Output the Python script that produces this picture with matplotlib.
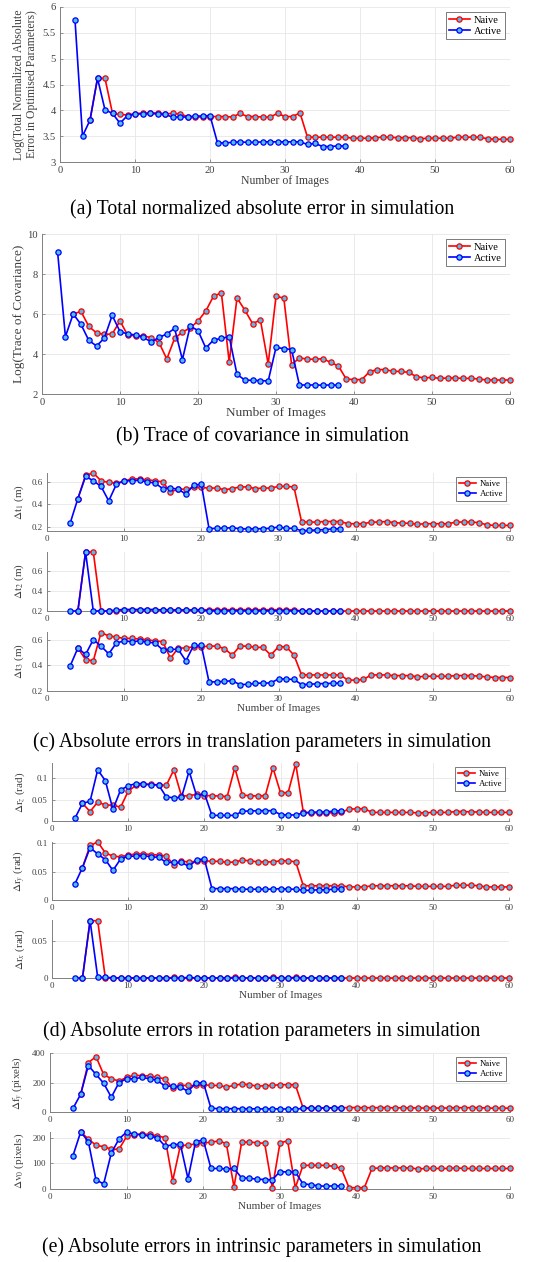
import numpy as np
import matplotlib
matplotlib.use("Agg")
import matplotlib.pyplot as plt

plt.rcParams['font.family'] = ['Liberation Serif', 'DejaVu Serif']
plt.rcParams['mathtext.fontset'] = 'stix'

# ---------------- data ----------------
# (a) log total normalized absolute error
a_active_start = 2
a_active = [5.75, 3.50, 3.81, 4.62, 4.01, 3.94, 3.75, 3.90, 3.93, 3.93, 3.94, 3.93, 3.92, 3.87, 3.87, 3.87,
            3.89, 3.89, 3.90, 3.37, 3.37, 3.38, 3.39, 3.38, 3.38, 3.39, 3.39, 3.39, 3.39, 3.39, 3.39, 3.34,
            3.36, 3.30, 3.30, 3.31, 3.31]
a_naive_start = 4
a_naive = [3.81, 4.62, 4.62, 3.94, 3.92, 3.91, 3.93, 3.95, 3.95, 3.95, 3.93, 3.94, 3.93, 3.88, 3.87, 3.87,
           3.88, 3.88, 3.88, 3.87, 3.94, 3.88, 3.88, 3.87, 3.87, 3.94, 3.88, 3.88, 3.95, 3.48, 3.48, 3.48,
           3.48, 3.48, 3.48, 3.46, 3.46, 3.46, 3.47, 3.48, 3.48, 3.47, 3.47, 3.47, 3.45, 3.46, 3.46, 3.46,
           3.46, 3.48, 3.48, 3.48, 3.48, 3.45, 3.44, 3.44, 3.44]

# (b) log trace of covariance
b_active_start = 2
b_active = [9.10, 4.87, 6.00, 5.48, 4.68, 4.40, 4.80, 5.93, 5.12, 5.00, 4.95, 4.83, 4.60, 4.83, 5.00, 5.28,
            3.72, 5.40, 5.17, 4.30, 4.70, 4.78, 4.87, 2.98, 2.70, 2.68, 2.67, 2.65, 4.33, 4.27, 4.22, 2.45,
            2.45, 2.45, 2.44, 2.45, 2.44]
b_naive_start = 4
b_naive = [6.00, 6.13, 5.38, 5.05, 4.98, 5.00, 5.65, 4.93, 4.92, 4.90, 4.82, 4.57, 3.75, 4.78, 5.10, 5.30,
           5.65, 6.15, 6.90, 7.05, 3.60, 6.80, 6.20, 5.52, 5.70, 3.50, 6.88, 6.80, 3.47, 3.80, 3.75, 3.73,
           3.77, 3.58, 3.40, 2.75, 2.72, 2.72, 3.12, 3.22, 3.22, 3.13, 3.13, 3.08, 2.87, 2.80, 2.83, 2.78,
           2.80, 2.80, 2.78, 2.78, 2.75, 2.70, 2.70, 2.70, 2.70]

# (c) translation errors, active from x=3, naive from x=4
t_active_start = 3
t_naive_start = 4
t1_active = [0.23, 0.45, 0.65, 0.61, 0.56, 0.43, 0.58, 0.61, 0.61, 0.615, 0.60, 0.59, 0.54, 0.545, 0.535, 0.49,
             0.57, 0.58, 0.18, 0.185, 0.185, 0.19, 0.18, 0.178, 0.18, 0.18, 0.185, 0.195, 0.185, 0.183, 0.163,
             0.165, 0.17, 0.172, 0.178, 0.18]
t1_naive = [0.45, 0.66, 0.68, 0.61, 0.595, 0.59, 0.605, 0.63, 0.625, 0.62, 0.61, 0.60, 0.51, 0.535, 0.535, 0.55,
            0.55, 0.545, 0.545, 0.53, 0.54, 0.555, 0.555, 0.54, 0.545, 0.545, 0.56, 0.56, 0.555, 0.24, 0.24, 0.24,
            0.245, 0.245, 0.245, 0.225, 0.225, 0.225, 0.24, 0.24, 0.245, 0.235, 0.23, 0.23, 0.22, 0.225, 0.225,
            0.225, 0.225, 0.24, 0.24, 0.24, 0.235, 0.215, 0.21, 0.21, 0.21]
t2_active = [0.20, 0.20, 0.79, 0.20, 0.20, 0.20, 0.21, 0.215, 0.215, 0.215, 0.215, 0.215, 0.21, 0.21, 0.21, 0.21,
             0.21, 0.21, 0.202, 0.202, 0.202, 0.202, 0.202, 0.202, 0.202, 0.202, 0.202, 0.202, 0.202, 0.202,
             0.20, 0.20, 0.20, 0.20, 0.20, 0.20]
t2_naive = [0.20, 0.79, 0.79, 0.20, 0.20, 0.20, 0.21, 0.21, 0.21, 0.21, 0.21, 0.21, 0.21, 0.21, 0.21, 0.21,
            0.21, 0.212, 0.212, 0.212, 0.212, 0.212, 0.212, 0.212, 0.212, 0.212, 0.212, 0.212, 0.212, 0.20, 0.20,
            0.20, 0.20, 0.20, 0.20, 0.20, 0.20, 0.20, 0.20, 0.20, 0.20, 0.20, 0.20, 0.20, 0.20, 0.20, 0.20, 0.20,
            0.20, 0.20, 0.20, 0.20, 0.20, 0.20, 0.20, 0.20, 0.20]
t3_active = [0.395, 0.535, 0.485, 0.60, 0.55, 0.49, 0.575, 0.59, 0.585, 0.59, 0.58, 0.575, 0.52, 0.525, 0.525,
             0.435, 0.555, 0.555, 0.27, 0.272, 0.275, 0.28, 0.25, 0.252, 0.26, 0.262, 0.262, 0.295, 0.293, 0.29,
             0.25, 0.252, 0.257, 0.258, 0.26, 0.262]
t3_naive = [0.535, 0.445, 0.435, 0.655, 0.63, 0.62, 0.61, 0.61, 0.605, 0.60, 0.59, 0.585, 0.455, 0.535, 0.535,
            0.545, 0.545, 0.55, 0.55, 0.53, 0.48, 0.55, 0.55, 0.54, 0.54, 0.48, 0.545, 0.545, 0.48, 0.325, 0.325,
            0.325, 0.325, 0.325, 0.325, 0.285, 0.285, 0.29, 0.325, 0.325, 0.325, 0.32, 0.32, 0.32, 0.31, 0.315,
            0.315, 0.315, 0.315, 0.32, 0.32, 0.32, 0.315, 0.31, 0.305, 0.305, 0.305]

# (d) rotation errors
rz_active = [0.006, 0.041, 0.046, 0.119, 0.094, 0.027, 0.072, 0.082, 0.087, 0.087, 0.084, 0.084, 0.056, 0.054,
             0.055, 0.116, 0.058, 0.065, 0.013, 0.013, 0.013, 0.013, 0.023, 0.023, 0.024, 0.024, 0.024, 0.015,
             0.014, 0.014, 0.019, 0.020, 0.021, 0.021, 0.023, 0.024]
rz_naive = [0.041, 0.022, 0.044, 0.037, 0.037, 0.032, 0.069, 0.083, 0.085, 0.085, 0.084, 0.083, 0.119, 0.058,
            0.059, 0.062, 0.059, 0.059, 0.058, 0.057, 0.124, 0.060, 0.059, 0.058, 0.059, 0.124, 0.066, 0.066,
            0.133, 0.020, 0.019, 0.019, 0.019, 0.019, 0.020, 0.028, 0.028, 0.029, 0.020, 0.020, 0.020, 0.020,
            0.020, 0.020, 0.019, 0.019, 0.020, 0.020, 0.020, 0.022, 0.022, 0.021, 0.021, 0.020, 0.020, 0.020, 0.020]
ry_active = [0.028, 0.057, 0.092, 0.081, 0.071, 0.052, 0.072, 0.077, 0.077, 0.078, 0.076, 0.075, 0.066, 0.066,
             0.066, 0.059, 0.071, 0.072, 0.020, 0.020, 0.020, 0.020, 0.019, 0.019, 0.019, 0.019, 0.019, 0.020,
             0.019, 0.019, 0.017, 0.017, 0.018, 0.018, 0.019, 0.019]
ry_naive = [0.057, 0.096, 0.102, 0.083, 0.077, 0.076, 0.079, 0.081, 0.081, 0.080, 0.079, 0.077, 0.062, 0.068,
            0.067, 0.068, 0.069, 0.068, 0.068, 0.066, 0.067, 0.070, 0.069, 0.067, 0.067, 0.067, 0.069, 0.069,
            0.067, 0.025, 0.025, 0.025, 0.025, 0.025, 0.025, 0.023, 0.023, 0.023, 0.025, 0.025, 0.025, 0.025,
            0.025, 0.025, 0.024, 0.024, 0.024, 0.024, 0.024, 0.026, 0.026, 0.026, 0.025, 0.023, 0.023, 0.023, 0.023]
rx_active = [0.0, 0.0, 0.078, 0.001, 0.0008, 0.0003, 0.0, 0.0, 0.0, 0.0, 0.0, 0.0, 0.0, 0.0, 0.0, 0.0008, 0.0, 0.0,
             0.0, 0.0, 0.0, 0.0, 0.0, 0.0, 0.0, 0.0, 0.0, 0.0, 0.0, 0.0, 0.0, 0.0, 0.0, 0.0, 0.0, 0.0]
rx_naive = [0.0, 0.078, 0.078, 0.0, 0.0, 0.0, 0.0, 0.0, 0.0, 0.0, 0.0, 0.0, 0.0008, 0.0, 0.0, 0.0, 0.0, 0.0, 0.0,
            0.0, 0.001, 0.0, 0.0, 0.0, 0.0, 0.001, 0.0, 0.0, 0.001, 0.0, 0.0, 0.0, 0.0, 0.0, 0.0, 0.0, 0.0, 0.0,
            0.0, 0.0, 0.0, 0.0, 0.0, 0.0, 0.0, 0.0, 0.0, 0.0, 0.0, 0.0, 0.0, 0.0, 0.0, 0.0, 0.0, 0.0, 0.0]

# (e) intrinsic errors
fy_active = [25, 120, 315, 255, 195, 100, 200, 225, 225, 235, 225, 215, 175, 175, 170, 140, 195, 200,
             25, 23, 22, 23, 22, 22, 21, 21, 21, 21, 20, 20, 24, 25, 26, 27, 29, 30]
fy_naive = [120, 335, 375, 255, 225, 210, 235, 250, 245, 245, 235, 225, 160, 180, 180, 180, 185, 180, 180,
            170, 180, 190, 185, 175, 178, 180, 185, 185, 185, 30, 28, 28, 28, 28, 28, 30, 30, 29, 29, 29, 29,
            28, 28, 28, 27, 27, 27, 27, 27, 29, 29, 29, 29, 27, 26, 26, 26]
v0_active = [130, 222, 185, 35, 20, 140, 195, 222, 213, 212, 205, 200, 167, 172, 175, 40, 185, 190,
             80, 80, 78, 80, 43, 42, 38, 37, 36, 68, 66, 66, 20, 17, 12, 11, 12, 12]
v0_naive = [222, 195, 170, 165, 155, 155, 205, 212, 213, 213, 207, 200, 32, 168, 172, 175, 180, 182, 187,
            177, 8, 182, 183, 180, 178, 3, 180, 187, 5, 92, 92, 92, 92, 88, 80, 5, 5, 5, 80, 82, 82, 82, 82,
            82, 78, 80, 80, 80, 80, 82, 80, 80, 80, 80, 80, 80, 80]

series_names = ['Naive', 'Active']

# ---------------- figure ----------------
W, H = 539, 1262
fig = plt.figure(figsize=(W / 100, H / 100), dpi=100)

RED = '#ff0000'
BLUE = '#0000ff'
FACE = '#4DBEEE'
TICKC = '#404040'


def ax_at(left, top, right, bottom):
    return fig.add_axes([left / W, 1 - bottom / H, (right - left) / W, (bottom - top) / H])


def draw(ax, naive, nstart, active, astart, ylim, yticks, ylabel, fs=6.5, ylfs=8, legend=False, lfs=6.3,
         xlabel=False, label_x=26):
    xn = np.arange(nstart, nstart + len(naive))
    xa = np.arange(astart, astart + len(active))
    ax.plot(xn, naive, '-o', color=RED, lw=1.2, ms=3.8, mew=0.9, mfc=FACE, mec=RED,
            label=series_names[0], clip_on=False, zorder=3)
    ax.plot(xa, active, '-o', color=BLUE, lw=1.2, ms=3.8, mew=0.9, mfc=FACE, mec=BLUE,
            label=series_names[1], clip_on=False, zorder=4)
    ax.set_xlim(0, 60)
    ax.set_ylim(*ylim)
    ax.set_xticks(range(0, 61, 10))
    ax.set_yticks(yticks)
    ax.grid(True, color='#e6e6e6', lw=0.6, zorder=0)
    ax.set_axisbelow(True)
    for s in ['top', 'right']:
        ax.spines[s].set_visible(False)
    for s in ['left', 'bottom']:
        ax.spines[s].set_color('#808080')
        ax.spines[s].set_linewidth(0.7)
    ax.tick_params(direction='in', length=2, width=0.6, color='#808080', labelsize=fs,
                   labelcolor=TICKC, pad=3)
    ax.set_ylabel(ylabel, fontsize=ylfs, color=TICKC, linespacing=1.1)
    bb = ax.get_position()
    ax.yaxis.set_label_coords((label_x / W - bb.x0) / bb.width, 0.5)
    if xlabel:
        ax.set_xlabel('Number of Images', fontsize=ylfs, color=TICKC, labelpad=0)
    if legend:
        leg = ax.legend(loc='upper right', fontsize=lfs, frameon=True, fancybox=False,
                        handlelength=2.0, handletextpad=0.4, borderpad=0.3, labelspacing=0.2,
                        borderaxespad=0.5)
        leg.get_frame().set_edgecolor('#404040')
        leg.get_frame().set_linewidth(0.6)
    return ax


# (a)
ax = ax_at(60, 7, 510, 162)
draw(ax, a_naive, a_naive_start, a_active, a_active_start, (3, 6), np.arange(3, 6.01, 0.5),
     'Log(Total Normalized Absolute\nError in Optimised Parameters)', fs=7.6, ylfs=8.5, legend=True, lfs=7.5,
     xlabel=True, label_x=38)
ax.set_yticklabels(['3', '3.5', '4', '4.5', '5', '5.5', '6'])

# (b)
ax = ax_at(42, 234, 510, 394)
draw(ax, b_naive, b_naive_start, b_active, b_active_start, (2, 10), [2, 4, 6, 8, 10],
     'Log(Trace of Covariance)', fs=7.6, ylfs=9.5, legend=True, lfs=7.5, xlabel=True, label_x=25)

# (c)
ax = ax_at(47, 473, 510, 531)
draw(ax, t1_naive, t_naive_start, t1_active, t_active_start, (0.16, 0.68), [0.2, 0.4, 0.6],
     r'$\Delta\mathrm{t}_{1}$ (m)', legend=True)
ax = ax_at(47, 552, 510, 611)
draw(ax, t2_naive, t_naive_start, t2_active, t_active_start, (0.2, 0.79), [0.2, 0.4, 0.6],
     r'$\Delta\mathrm{t}_{2}$ (m)')
ax = ax_at(47, 632, 510, 691)
draw(ax, t3_naive, t_naive_start, t3_active, t_active_start, (0.2, 0.66), [0.2, 0.4, 0.6],
     r'$\Delta\mathrm{t}_{3}$ (m)', xlabel=True)

# (d)
ax = ax_at(52, 763, 509, 821)
draw(ax, rz_naive, t_naive_start, rz_active, t_active_start, (0, 0.135), [0, 0.05, 0.1],
     r'$\Delta\mathrm{r}_{z}$ (rad)', legend=True, label_x=27)
ax.set_yticklabels(['0', '0.05', '0.1'])
ax = ax_at(52, 842, 509, 900)
draw(ax, ry_naive, t_naive_start, ry_active, t_active_start, (0, 0.102), [0, 0.05, 0.1],
     r'$\Delta\mathrm{r}_{y}$ (rad)', label_x=27)
ax.set_yticklabels(['0', '0.05', '0.1'])
ax = ax_at(52, 920, 509, 978)
draw(ax, rx_naive, t_naive_start, rx_active, t_active_start, (0, 0.079), [0, 0.05],
     r'$\Delta\mathrm{r}_{x}$ (rad)', xlabel=True, label_x=27)
ax.set_yticklabels(['0', '0.05'])

# (e)
ax = ax_at(50, 1053, 510, 1112)
draw(ax, fy_naive, t_naive_start, fy_active, t_active_start, (0, 400), [0, 200, 400],
     r'$\Delta\mathrm{f}_{y}$ (pixels)', legend=True)
ax = ax_at(50, 1132, 510, 1189)
draw(ax, v0_naive, t_naive_start, v0_active, t_active_start, (0, 222), [0, 100, 200],
     r'$\Delta\mathrm{v}_{0}$ (pixels)', xlabel=True)

# captions
captions = [
    ('(a) Total normalized absolute error in simulation', 210),
    ('(b) Trace of covariance in simulation', 437),
    ('(c) Absolute errors in translation parameters in simulation', 742),
    ('(d) Absolute errors in rotation parameters in simulation', 1031),
    ('(e) Absolute errors in intrinsic parameters in simulation', 1247),
]
for txt, y in captions:
    fig.text(262 / W, 1 - y / H, txt, ha='center', va='center', fontsize=14.2, color='black')

fig.savefig('out.png', dpi=100)
